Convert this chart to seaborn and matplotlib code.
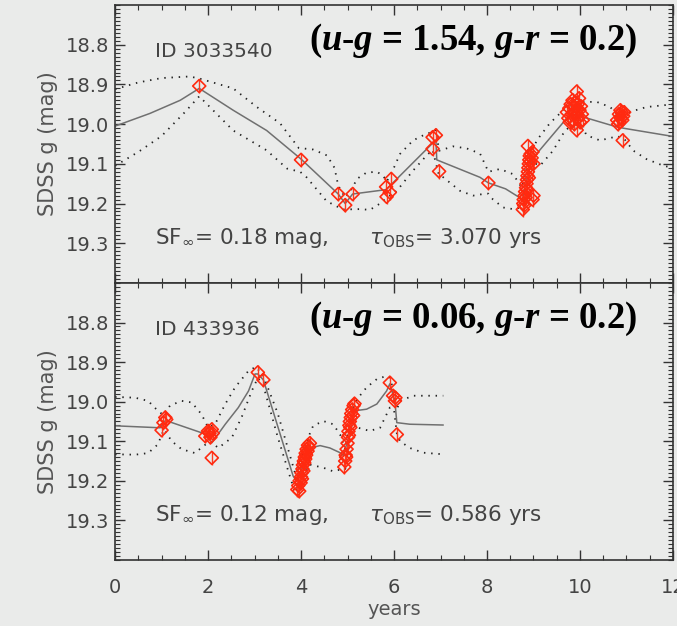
import matplotlib
matplotlib.use('Agg')
import matplotlib.pyplot as plt
from matplotlib.ticker import MultipleLocator
import seaborn as sns

sns.set_theme(style='ticks')
plt.rcParams['font.family'] = ['DejaVu Sans']
plt.rcParams['mathtext.fontset'] = 'custom'
plt.rcParams['mathtext.rm'] = 'Liberation Serif:bold'
plt.rcParams['mathtext.it'] = 'Liberation Serif:bold:italic'
plt.rcParams['mathtext.bf'] = 'Liberation Serif:bold'

# ---- top object: ID 3033540 ----
top_t = [1.81, 4.00, 4.80, 4.95, 5.11, 5.83, 5.84, 5.91, 5.94, 6.83, 6.83, 6.90, 6.97, 8.03,
         8.77, 8.78, 8.79, 8.80, 8.81, 8.82, 8.83, 8.84, 8.85, 8.86, 8.86, 8.87, 8.88, 8.89,
         8.90, 8.90, 8.91, 8.92, 8.93, 8.94, 8.88, 8.96, 8.98, 9.00, 9.00, 8.98,
         9.72, 9.75, 9.77, 9.78, 9.80, 9.82, 9.84, 9.85, 9.87, 9.88, 9.90, 9.91, 9.93, 9.93,
         9.95, 9.96, 9.98, 9.99, 10.00, 10.02, 10.04, 10.06,
         10.80, 10.82, 10.84, 10.85, 10.87, 10.88, 10.90, 10.91, 10.92, 10.93, 10.95]
top_g = [18.904, 19.090, 19.176, 19.204, 19.176, 19.158, 19.183, 19.172, 19.138, 19.033, 19.062, 19.028, 19.119, 19.148,
         19.215, 19.200, 19.190, 19.205, 19.180, 19.170, 19.185, 19.160, 19.150, 19.140, 19.165, 19.130, 19.120, 19.110,
         19.135, 19.100, 19.090, 19.080, 19.095, 19.075, 19.055, 19.085, 19.070, 19.100, 19.180, 19.190,
         18.970, 18.985, 18.960, 18.995, 18.950, 18.975, 18.940, 18.990, 18.955, 19.000, 18.945, 18.970, 18.918, 19.015,
         18.950, 18.985, 18.935, 18.965, 18.995, 18.955, 18.975, 18.990,
         18.990, 19.000, 18.975, 18.995, 18.965, 18.985, 18.970, 18.990, 19.041, 18.980, 18.970]

top_mean_t = [0, 0.75, 1.4, 1.81, 2.54, 3.26, 4.0, 4.8, 4.95, 5.11, 5.83, 6.83, 6.90, 6.92, 7.85, 8.03,
              8.4, 8.77, 8.84, 8.9, 9.03, 9.71, 9.9, 10.07, 10.79, 10.97, 12]
top_mean_g = [19.005, 18.973, 18.940, 18.910, 18.965, 19.016, 19.088, 19.176, 19.200, 19.176, 19.165, 19.048, 19.040, 19.090,
              19.134, 19.148, 19.163, 19.190, 19.150, 19.110, 19.080, 18.986, 18.975, 18.982, 19.007, 19.011, 19.031]

top_up_t = [0, 0.5, 1.0, 1.6, 1.81, 2.54, 3.05, 3.55, 3.95, 4.26, 4.56, 4.72, 4.8, 4.95, 5.11, 5.2, 5.41, 5.63,
            5.77, 5.84, 5.94, 6.13, 6.41, 6.7, 6.83, 6.9, 6.97, 7.27, 7.56, 7.85, 8.03, 8.28, 8.56, 8.75, 8.9,
            9.07, 9.35, 9.64, 9.75, 10.07, 10.36, 10.65, 10.8, 10.97, 11.08, 11.43, 12]
top_up_g = [18.912, 18.895, 18.884, 18.880, 18.885, 18.910, 18.957, 18.998, 19.060, 19.064, 19.079, 19.110, 19.155, 19.185, 19.160,
            19.138, 19.122, 19.120, 19.130, 19.145, 19.125, 19.075, 19.041, 19.024, 19.020, 19.015, 19.067, 19.056, 19.061,
            19.074, 19.120, 19.113, 19.126, 19.160, 19.090, 19.041, 18.998, 18.965, 18.955, 18.944, 18.944, 18.957, 18.975,
            18.975, 18.969, 18.957, 18.950]

top_lo_t = [0, 0.5, 1.0, 1.5, 1.81, 2.54, 3.26, 3.7, 3.98, 4.12, 4.55, 4.9, 5.27, 5.48, 5.7, 5.85, 6.06, 6.41,
            6.7, 6.83, 6.97, 7.06, 7.42, 7.7, 7.92, 8.03, 8.13, 8.35, 8.56, 8.75, 8.9, 9.05, 9.14, 9.42, 9.68,
            9.75, 10.07, 10.14, 10.43, 10.72, 10.8, 10.97, 11.15, 11.43, 11.8, 12]
top_lo_g = [19.105, 19.070, 19.030, 18.970, 18.930, 19.016, 19.066, 19.112, 19.120, 19.134, 19.194, 19.215, 19.214, 19.216,
            19.200, 19.185, 19.168, 19.117, 19.079, 19.065, 19.130, 19.134, 19.168, 19.180, 19.176, 19.175, 19.190, 19.210,
            19.214, 19.210, 19.130, 19.100, 19.105, 19.067, 19.016, 19.010, 19.010, 19.028, 19.041, 19.033, 19.030, 19.040,
            19.067, 19.088, 19.105, 19.110]

# ---- bottom object: ID 433936 ----
bot_t = [1.00, 1.04, 1.08, 1.10, 1.94, 2.00, 2.03, 2.05, 2.08, 2.10, 2.08, 3.07, 3.19,
         3.92, 3.94, 3.96, 3.97, 3.99, 4.00, 4.01, 4.02, 4.03, 4.04, 4.05, 4.06, 4.07, 4.08, 4.09,
         4.10, 4.11, 4.12, 4.14, 4.15, 4.17, 4.19,
         4.93, 4.95, 4.96, 4.97, 4.98, 5.00, 5.01, 5.02, 5.03, 5.04, 5.05, 5.06, 5.07, 5.08, 5.10,
         5.12, 5.13, 5.15,
         5.91, 5.98, 6.02, 6.03, 6.06]
bot_g = [19.072, 19.053, 19.040, 19.045, 19.087, 19.074, 19.080, 19.090, 19.070, 19.080, 19.142, 18.926, 18.945,
         19.222, 19.212, 19.226, 19.200, 19.205, 19.190, 19.180, 19.195, 19.170, 19.160, 19.175, 19.150, 19.155, 19.140, 19.145,
         19.130, 19.135, 19.120, 19.125, 19.110, 19.115, 19.105,
         19.165, 19.150, 19.135, 19.140, 19.120, 19.105, 19.090, 19.075, 19.085, 19.060, 19.050, 19.065, 19.040, 19.030, 19.020,
         19.035, 19.010, 19.005,
         18.952, 18.985, 18.998, 18.990, 19.083]

bot_mean_t = [0, 0.97, 1.05, 1.1, 1.97, 2.08, 2.37, 2.65, 2.87, 3.01, 3.07, 3.19, 3.83, 3.9, 4.05, 4.19, 4.41,
              4.62, 4.84, 4.91, 5.0, 5.16, 5.41, 5.63, 5.84, 5.91, 6.02, 6.06, 6.34, 7.06]
bot_mean_g = [19.061, 19.066, 19.050, 19.048, 19.083, 19.104, 19.057, 19.015, 18.973, 18.930, 18.930, 18.945, 19.188,
              19.200, 19.160, 19.117, 19.111, 19.117, 19.129, 19.136, 19.100, 19.023, 19.019, 19.006, 18.973, 18.955,
              19.000, 19.053, 19.057, 19.059]

bot_up_t = [0, 0.43, 0.71, 0.92, 1.05, 1.18, 1.43, 1.65, 1.86, 2.0, 2.15, 2.37, 2.58, 2.87, 3.03, 3.19, 3.5,
            3.87, 4.0, 4.12, 4.26, 4.48, 4.69, 4.84, 4.95, 5.1, 5.23, 5.41, 5.63, 5.84, 5.91, 5.96, 6.06, 6.13,
            6.41, 6.77, 7.06]
bot_up_g = [18.988, 18.990, 18.998, 19.023, 19.035, 19.010, 18.998, 19.002, 19.032, 19.065, 19.057, 19.006, 18.964,
            18.922, 18.912, 18.935, 19.030, 19.180, 19.150, 19.100, 19.061, 19.049, 19.057, 19.083, 19.120, 19.020,
            18.990, 18.964, 18.943, 18.935, 18.940, 18.960, 19.020, 18.998, 18.985, 18.985, 18.985]

bot_lo_t = [0, 0.43, 0.71, 0.92, 1.05, 1.22, 1.43, 1.72, 1.9, 2.05, 2.22, 2.51, 2.72, 2.94, 3.07, 3.19, 3.5,
            3.87, 4.0, 4.19, 4.48, 4.69, 4.87, 4.95, 5.1, 5.23, 5.48, 5.7, 5.91, 6.0, 6.06, 6.13, 6.34, 6.63, 7.06]
bot_lo_g = [19.133, 19.134, 19.130, 19.108, 19.070, 19.100, 19.120, 19.130, 19.112, 19.100, 19.117, 19.091, 19.040,
            18.973, 18.940, 18.960, 19.090, 19.230, 19.200, 19.159, 19.167, 19.176, 19.171, 19.170, 19.050, 19.066,
            19.074, 19.066, 19.015, 19.020, 19.080, 19.100, 19.117, 19.129, 19.133]

g_err = 0.018
panels = [
    dict(t=top_t, g=top_g, mt=top_mean_t, mg=top_mean_g, ut=top_up_t, ug=top_up_g, lt=top_lo_t, lg=top_lo_g,
         name='ID 3033540', color=r'($u$-$g$ = 1.54, $g$-$r$ = 0.2)',
         sf=r'SF$_\infty$= 0.18 mag,      $\tau_{\rm OBS}$= 3.070 yrs'),
    dict(t=bot_t, g=bot_g, mt=bot_mean_t, mg=bot_mean_g, ut=bot_up_t, ug=bot_up_g, lt=bot_lo_t, lg=bot_lo_g,
         name='ID 433936', color=r'($u$-$g$ = 0.06, $g$-$r$ = 0.2)',
         sf=r'SF$_\infty$= 0.12 mag,      $\tau_{\rm OBS}$= 0.586 yrs'),
]

bg = '#eaebea'
fig = plt.figure(figsize=(6.77, 6.26), dpi=100, facecolor=bg)
boxes = [[0.170, 0.548, 0.824, 0.444], [0.170, 0.1055, 0.824, 0.4425]]
txt_col = '#444444'

for i, (p, box) in enumerate(zip(panels, boxes)):
    ax = fig.add_axes(box)
    ax.set_facecolor(bg)
    sns.lineplot(x=p['ut'], y=p['ug'], ax=ax, color='#222222', lw=1.3, linestyle=(0, (0.8, 3.2)), sort=False)
    sns.lineplot(x=p['lt'], y=p['lg'], ax=ax, color='#222222', lw=1.3, linestyle=(0, (0.8, 3.2)), sort=False)
    sns.lineplot(x=p['mt'], y=p['mg'], ax=ax, color='#707070', lw=1.1, sort=False)
    ax.errorbar(p['t'], p['g'], yerr=g_err, fmt='none', ecolor='#ff3b1f', elinewidth=1.0, zorder=3)
    ax.scatter(p['t'], p['g'], marker='D', s=44, facecolors='none', edgecolors='#ff2a10', linewidths=1.2, zorder=4)

    ax.set_xlim(0, 12)
    ax.set_ylim(19.4, 18.7)
    ax.xaxis.set_major_locator(MultipleLocator(2))
    ax.xaxis.set_minor_locator(MultipleLocator(0.5))
    ax.yaxis.set_minor_locator(MultipleLocator(0.01))
    ax.set_yticks([18.8, 18.9, 19.0, 19.1, 19.2, 19.3])
    ax.tick_params(which='both', direction='in', top=True, right=True, color='#333333')
    ax.tick_params(which='major', length=7, width=1.0, labelsize=14, labelcolor=txt_col)
    ax.tick_params(axis='y', which='major', pad=4)
    ax.tick_params(axis='x', which='major', pad=13)
    ax.tick_params(which='minor', length=3.5, width=0.8)
    for s in ax.spines.values():
        s.set_color('#333333')
        s.set_linewidth(1.2)
    ax.set_ylabel('SDSS g (mag)', fontsize=15, color='#555555', labelpad=6)
    if i == 0:
        ax.set_xticklabels([])
        ax.set_xlabel('')
    else:
        ax.set_xlabel('years', fontsize=14, color='#555555', labelpad=2)

    ax.text(0.86, 18.817, p['name'], fontsize=14.5, color=txt_col, va='center', ha='left')
    ax.text(7.69, 18.79, p['color'], fontsize=26.5, color='black', fontfamily='Liberation Serif',
            fontweight='bold', va='center', ha='center', math_fontfamily='custom')
    ax.text(0.86, 19.287, p['sf'], fontsize=15.5, color=txt_col, va='center', ha='left',
            math_fontfamily='dejavusans')

fig.savefig('out.png', dpi=100, facecolor=bg)
